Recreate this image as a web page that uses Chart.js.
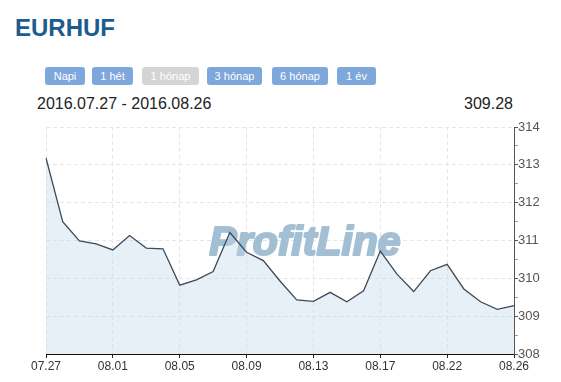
<!DOCTYPE html>
<html>
<head>
<meta charset="utf-8">
<script src="https://cdn.jsdelivr.net/npm/chart.js@4.4.0/dist/chart.umd.min.js"></script>
<style>
    body { margin: 0; width: 561px; height: 382px; background: #fff; font-family: Arial, "Liberation Sans", sans-serif; position: relative; overflow: hidden; }
    #title { position: absolute; left: 15px; top: 14px; font-size: 24px; font-weight: bold; color: #1b5d8e; }
    .btn { position: absolute; top: 67px; height: 18px; line-height: 18px; border-radius: 3px; background: #7ea7dc; color: #fff; font-size: 11px; text-align: center; }
    .btn.off { background: #d4d4d4; }
    #range { position: absolute; left: 37px; top: 95px; font-size: 16px; color: #222; }
    #last { position: absolute; right: 48px; top: 95px; font-size: 16px; color: #222; }
    #wrap { position: absolute; left: 0; top: 118px; width: 561px; height: 264px; }
</style>
</head>
<body>
<div id="title">EURHUF</div>
<div class="btn" style="left:45px;width:40px">Napi</div>
<div class="btn" style="left:92px;width:41px">1 hét</div>
<div class="btn off" style="left:142px;width:57px">1 hónap</div>
<div class="btn" style="left:207px;width:55px">3 hónap</div>
<div class="btn" style="left:272px;width:56px">6 hónap</div>
<div class="btn" style="left:337px;width:39px">1 év</div>
<div id="range">2016.07.27 - 2016.08.26</div>
<div id="last">309.28</div>
<div id="wrap"><canvas id="eurhufChart" width="561" height="264"></canvas></div>

<script>
// dates of the quotes (only every 4th one is shown on the axis)
const dates = [
    '07.27', '07.28', '07.29', '07.31', '08.01', '08.02', '08.03', '08.04',
    '08.05', '08.06', '08.07', '08.08', '08.09', '08.10', '08.11', '08.12',
    '08.13', '08.14', '08.15', '08.16', '08.17', '08.18', '08.19', '08.21',
    '08.22', '08.23', '08.24', '08.25', '08.26'
];

// EUR/HUF rate
const rates = [
    313.18, 311.50, 310.99, 310.91, 310.75, 311.13, 310.80, 310.78,
    309.82, 309.96, 310.18, 311.21, 310.69, 310.47, 309.93, 309.43,
    309.39, 309.63, 309.38, 309.67, 310.72, 310.11, 309.65, 310.20,
    310.37, 309.72, 309.38, 309.18, 309.28
];

const yMin = 308;
const yMax = 314;

// faint logo behind the line
const watermark = {
    id: 'watermark',
    beforeDatasetsDraw(chart) {
        const ctx = chart.ctx;
        ctx.save();
        ctx.font = 'italic bold 41px Arial, "Liberation Sans", sans-serif';
        ctx.fillStyle = '#a3bfd4';
        ctx.strokeStyle = '#a3bfd4';
        ctx.lineWidth = 2.2;
        ctx.lineJoin = 'round';
        ctx.textAlign = 'center';
        ctx.textBaseline = 'middle';
        ctx.fillText('ProfitLine', 305, 126);
        ctx.strokeText('ProfitLine', 305, 126);
        ctx.restore();
    }
};

const ctx = document.getElementById('eurhufChart').getContext('2d');

new Chart(ctx, {
    type: 'line',
    data: {
        labels: dates,
        datasets: [{
            data: rates,
            borderColor: '#3b4b5a',
            borderWidth: 1.3,
            backgroundColor: 'rgba(196,214,236,0.4)',
            fill: 'start',
            pointRadius: 0,
            tension: 0
        }]
    },
    options: {
        responsive: false,
        animation: false,
        layout: { padding: { left: 46, top: 9, right: 0, bottom: 0 } },
        scales: {
            x: {
                afterFit: function(scale) { scale.height = 28; },
                grid: {
                    color: c => c.index % 4 === 0 ? '#e6e6e6' : 'rgba(0,0,0,0)',
                    tickColor: c => c.index % 4 === 0 ? '#222' : 'rgba(0,0,0,0)',
                    tickLength: 4,
                    tickBorderDash: []
                },
                border: { color: '#111', width: 1, dash: [4, 3] },
                ticks: {
                    autoSkip: false,
                    maxRotation: 0,
                    padding: 1,
                    color: '#333',
                    font: { family: 'Arial, "Liberation Sans", sans-serif', size: 12 },
                    callback: function(value, index) { return index % 4 === 0 ? this.getLabelForValue(value) : ''; }
                }
            },
            y: {
                position: 'right',
                min: yMin,
                max: yMax,
                afterFit: function(scale) { scale.width = 47; },
                grid: {
                    color: c => c.tick && c.tick.value % 1 === 0 ? '#e6e6e6' : 'rgba(0,0,0,0)',
                    tickColor: c => c.tick && c.tick.value % 1 === 0 ? '#555' : '#d08a8a',
                    tickLength: 4,
                    tickBorderDash: []
                },
                border: { color: '#555', width: 1, dash: [4, 3] },
                ticks: {
                    stepSize: 0.5,
                    padding: 0,
                    color: '#555',
                    font: { family: 'Arial, "Liberation Sans", sans-serif', size: 13 },
                    callback: value => value % 1 === 0 ? value : ''
                }
            }
        },
        plugins: {
            legend: { display: false },
            tooltip: { enabled: false }
        }
    },
    plugins: [watermark]
});
</script>
</body>
</html>
